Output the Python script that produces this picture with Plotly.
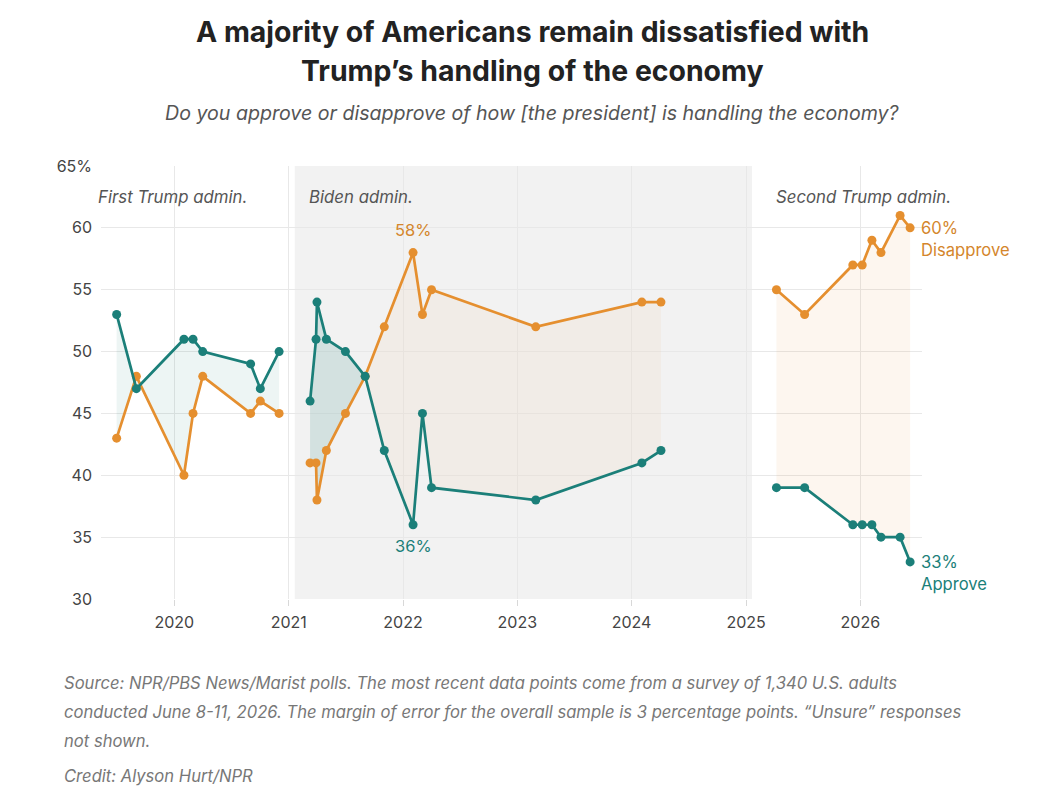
import plotly.graph_objects as go

# ---------------- data ----------------
trump1_dates = ["2019-07-01", "2019-09-02", "2020-02-01", "2020-03-01", "2020-04-01",
                "2020-09-01", "2020-10-02", "2020-12-01"]
trump1_approve = [53, 47, 51, 51, 50, 49, 47, 50]
trump1_disapprove = [43, 48, 40, 45, 48, 45, 46, 45]

biden_dates = ["2021-03-10", "2021-03-29", "2021-04-01", "2021-05-01", "2021-07-01",
               "2021-09-02", "2021-11-02", "2022-02-02", "2022-03-04", "2022-04-02",
               "2023-03-01", "2024-02-03", "2024-04-04"]
biden_approve = [46, 51, 54, 51, 50, 48, 42, 36, 45, 39, 38, 41, 42]
biden_disapprove = [41, 41, 38, 42, 45, 48, 52, 58, 53, 55, 52, 54, 54]
biden_cross = 5  # index where the lines meet

trump2_dates = ["2025-04-08", "2025-07-07", "2025-12-08", "2026-01-07", "2026-02-07",
                "2026-03-08", "2026-05-08", "2026-06-09"]
trump2_approve = [39, 39, 36, 36, 36, 35, 35, 33]
trump2_disapprove = [55, 53, 57, 57, 59, 58, 61, 60]

biden_term = ["2021-01-20", "2025-01-20"]
period_labels = ["First Trump admin.", "Biden admin.", "Second Trump admin."]
y_tickvals = [30, 35, 40, 45, 50, 55, 60, 65]
y_ticktext = ["30", "35", "40", "45", "50", "55", "60", "65%"]

TEAL = "#1b7f79"
ORANGE = "#e58f2f"
ORANGE_TXT = "#d4862c"
FONT = "Inter"

# pixel helpers (plot area: x 101..922, y 166..599)
L, R, T, B = 101, 922, 166, 599
def px(x):
    return (x - L) / (R - L)
def py(y):
    return (B - y) / (B - T)

fig = go.Figure()

def band(xs, top, bottom, color):
    fig.add_trace(go.Scatter(
        x=list(xs) + list(xs)[::-1], y=list(top) + list(bottom)[::-1],
        fill="toself", fillcolor=color, mode="lines", line=dict(width=0),
        hoverinfo="skip", showlegend=False))

band(trump1_dates, trump1_approve, trump1_disapprove, "rgba(27,127,121,0.08)")
band(biden_dates[:biden_cross + 1], biden_approve[:biden_cross + 1],
     biden_disapprove[:biden_cross + 1], "rgba(27,127,121,0.14)")
band(biden_dates[biden_cross:], biden_disapprove[biden_cross:],
     biden_approve[biden_cross:], "rgba(229,143,47,0.05)")
band(trump2_dates, trump2_disapprove, trump2_approve, "rgba(229,143,47,0.08)")

for xs, ap, dis in [(trump1_dates, trump1_approve, trump1_disapprove),
                    (biden_dates, biden_approve, biden_disapprove),
                    (trump2_dates, trump2_approve, trump2_disapprove)]:
    fig.add_trace(go.Scatter(x=xs, y=dis, mode="lines+markers",
                             line=dict(color=ORANGE, width=2.7),
                             marker=dict(color=ORANGE, size=9), showlegend=False))
    fig.add_trace(go.Scatter(x=xs, y=ap, mode="lines+markers",
                             line=dict(color=TEAL, width=2.7),
                             marker=dict(color=TEAL, size=9), showlegend=False))

# Biden-term background
fig.add_shape(type="rect", xref="x", yref="paper", x0=biden_term[0], x1=biden_term[1],
              y0=0, y1=1, fillcolor="#f2f2f2", line=dict(width=0), layer="below")

ann = []
# title & subtitle
ann.append(dict(text="<b>A majority of Americans remain dissatisfied with</b>",
                x=px(532), y=py(32), font=dict(size=28.4, color="#222", family=FONT)))
ann.append(dict(text="<b>Trump’s handling of the economy</b>",
                x=px(532), y=py(70), font=dict(size=28.4, color="#222", family=FONT)))
ann.append(dict(text="<i>Do you approve or disapprove of how [the president] is handling the economy?</i>",
                x=px(532), y=py(113), font=dict(size=19.6, color="#555", family=FONT)))
for a in ann:
    a.update(xref="paper", yref="paper", showarrow=False, xanchor="center", yanchor="middle")

# period labels
for lbl, xp in zip(period_labels, [96, 307, 774]):
    ann.append(dict(text=f"<i>{lbl}</i>", xref="paper", yref="paper", x=px(xp), y=py(197),
                    xanchor="left", yanchor="middle", showarrow=False,
                    font=dict(size=16.8, color="#555", family=FONT)))

# extreme labels in Biden era
imax = biden_disapprove.index(max(biden_disapprove))
imin = biden_approve.index(min(biden_approve))
ann.append(dict(text=f"{biden_disapprove[imax]}%", x=biden_dates[imax], y=biden_disapprove[imax],
                xref="x", yref="y", yshift=23, showarrow=False, xanchor="center", yanchor="middle",
                font=dict(size=16.5, color=ORANGE_TXT, family=FONT)))
ann.append(dict(text=f"{biden_approve[imin]}%", x=biden_dates[imin], y=biden_approve[imin],
                xref="x", yref="y", yshift=-21, showarrow=False, xanchor="center", yanchor="middle",
                font=dict(size=16.5, color=TEAL, family=FONT)))

# end labels
ann.append(dict(text=f"{trump2_disapprove[-1]}%<br>Disapprove", x=trump2_dates[-1], y=trump2_disapprove[-1],
                xref="x", yref="y", xshift=9, yshift=-11, showarrow=False, xanchor="left", yanchor="middle",
                align="left", font=dict(size=16.6, color=ORANGE_TXT, family=FONT)))
ann.append(dict(text=f"{trump2_approve[-1]}%<br>Approve", x=trump2_dates[-1], y=trump2_approve[-1],
                xref="x", yref="y", xshift=9, yshift=-11, showarrow=False, xanchor="left", yanchor="middle",
                align="left", font=dict(size=16.6, color=TEAL, family=FONT)))

# footnote
foot = ["Source: NPR/PBS News/Marist polls. The most recent data points come from a survey of 1,340 U.S. adults",
        "conducted June 8-11, 2026. The margin of error for the overall sample is 3 percentage points. “Unsure” responses",
        "not shown."]
for line, yp in zip(foot, [683, 712, 741]):
    ann.append(dict(text=f"<i>{line}</i>", xref="paper", yref="paper", x=px(62), y=py(yp),
                    xanchor="left", yanchor="middle", showarrow=False,
                    font=dict(size=16.6, color="#777", family=FONT)))
ann.append(dict(text="<i>Credit: Alyson Hurt/NPR</i>", xref="paper", yref="paper", x=px(62), y=py(776),
                xanchor="left", yanchor="middle", showarrow=False,
                font=dict(size=16.6, color="#777", family=FONT)))

fig.update_layout(
    width=1061, height=807,
    margin=dict(l=L, r=1061 - R, t=T, b=807 - B, pad=0),
    paper_bgcolor="white", plot_bgcolor="white",
    annotations=ann, showlegend=False,
    font=dict(family=FONT, color="#444"),
    xaxis=dict(range=["2019-05-12", "2026-07-17"], type="date", dtick="M12", tick0="2020-01-01",
               tickformat="%Y", showgrid=True, gridcolor="#e8e8e8", gridwidth=1,
               ticks="outside", ticklen=6, tickcolor="#d8d8d8", zeroline=False,
               showline=False, tickfont=dict(size=16, color="#444", family=FONT),
               ticklabelstandoff=3),
    yaxis=dict(range=[30, 65], tickvals=y_tickvals, ticktext=y_ticktext,
               showgrid=True, gridcolor="#e8e8e8", gridwidth=1, zeroline=False,
               showline=False, ticks="", tickfont=dict(size=16, color="#444", family=FONT),
               ticklabelstandoff=8),
)

fig.write_html("out.html")
